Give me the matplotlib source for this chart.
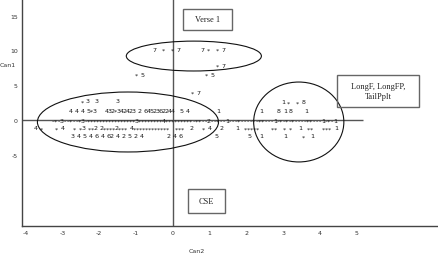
import matplotlib
matplotlib.use('Agg')
import matplotlib.pyplot as plt
from matplotlib.patches import Ellipse, Rectangle

plt.rcParams['axes.unicode_minus'] = False

# character plot rows (line printer style): row y, x of first cell, text
row_y = [10.2, 7.8, 6.5, 6.5, 4.0, 2.75, 2.6, 1.35, 1.3, -0.1, -1.15, -2.3]
row_x0 = [-0.49, 1.22, -0.98, 0.92, 0.52, -2.47, 2.99, -2.77, 2.39, -3.26, -3.72, -2.72]
row_text = [
    "7  *  * 7       7 *  * 7",
    "* 7",
    "* 5",
    "* 5",
    "* 7",
    "* 3  3      3",
    "1 *  * 8",
    "4 4 4 5*3   432*342423 2 6452362244  5 4         1",
    "1     8 1 8    1",
    "-*-3--*--*3-****************3********4*********"
    "-**--2--*--1---*----*-**---1-*-*-*----**---1-*-1",
    "4 *    * 4   * *3 **2 2****2*** 4************  ***  2   * 4   2    1"
    "  *****    **  * *  1  **   *** 1",
    "3 4 5 4 6 4 62 4 2 5 2 4        2 4 6           5          5   1"
    "       1     *  1",
]
cell = 0.0815

xticks = [-4, -3, -2, -1, 0, 1, 2, 3, 4, 5]
yticks = [-5, 0, 5, 10, 15]

# group outlines: centre x, centre y, width, height
ell_x = [0.57, -1.22, 3.42]
ell_y = [9.2, -0.29, -0.29]
ell_w = [3.67, 4.92, 2.45]
ell_h = [4.3, 8.63, 11.5]

# labelled boxes: x0, y0, x1, y1, text
box_x0 = [0.27, 4.46, 0.41]
box_y0 = [12.95, 1.87, -13.38]
box_x1 = [1.60, 6.68, 1.41]
box_y1 = [15.97, 6.47, -9.93]
box_text = ["Verse 1", "LongF, LongFP,\nTailPplt", "CSE"]

fig = plt.figure(figsize=(4.39, 2.55), dpi=100)
ax = fig.add_axes([0.050, 0.110, 0.950, 0.890])
ax.set_xlim(-4.10, 7.23)
ax.set_ylim(-15.25, 17.41)

for s in ['top', 'right']:
    ax.spines[s].set_visible(False)
for s in ['left', 'bottom']:
    ax.spines[s].set_color('#444444')
    ax.spines[s].set_linewidth(1.0)

ax.axvline(0, color='#555555', lw=1.0, zorder=1)
ax.hlines(0, -4.10, 5.16, color='#555555', lw=1.0, zorder=1)

for y, x0, txt in zip(row_y, row_x0, row_text):
    for i, ch in enumerate(txt):
        if ch == ' ':
            continue
        # the asterisk glyph sits high, pull it down a little
        dy = -0.1 if ch == '*' else 0.0
        ax.text(x0 + i * cell, y + dy, ch, fontsize=4.6, color='#1a1a1a',
                ha='center', va='center', family='DejaVu Sans', zorder=3)

for cx, cy, w, h in zip(ell_x, ell_y, ell_w, ell_h):
    ax.add_patch(Ellipse((cx, cy), w, h, fill=False, edgecolor='#111111',
                         lw=0.8, zorder=2))

for x0, y0, x1, y1, txt in zip(box_x0, box_y0, box_x1, box_y1, box_text):
    ax.add_patch(Rectangle((x0, y0), x1 - x0, y1 - y0, fill=False,
                           edgecolor='#666666', lw=1.0, zorder=2))
    ax.text((x0 + x1) / 2, (y0 + y1) / 2, txt, fontsize=6,
            family='Liberation Serif', ha='center', va='center',
            color='#222222', linespacing=1.2, zorder=3)

ax.set_xticks(xticks)
ax.set_xticklabels([str(v) for v in xticks])
ax.set_yticks(yticks)
ax.set_yticklabels([str(v) for v in yticks])
ax.tick_params(length=0, labelsize=4.5, colors='#333333')
ax.tick_params(axis='x', pad=3)
ax.tick_params(axis='y', pad=3)

ax.set_xlabel('Can2', fontsize=4.5, color='#333333')
ax.xaxis.set_label_coords(0.42, -0.097)
ax.set_ylabel('Can1', fontsize=4.5, color='#333333', rotation=0)
ax.yaxis.set_label_coords(-0.034, 0.70)

fig.savefig('out.png', dpi=100)
